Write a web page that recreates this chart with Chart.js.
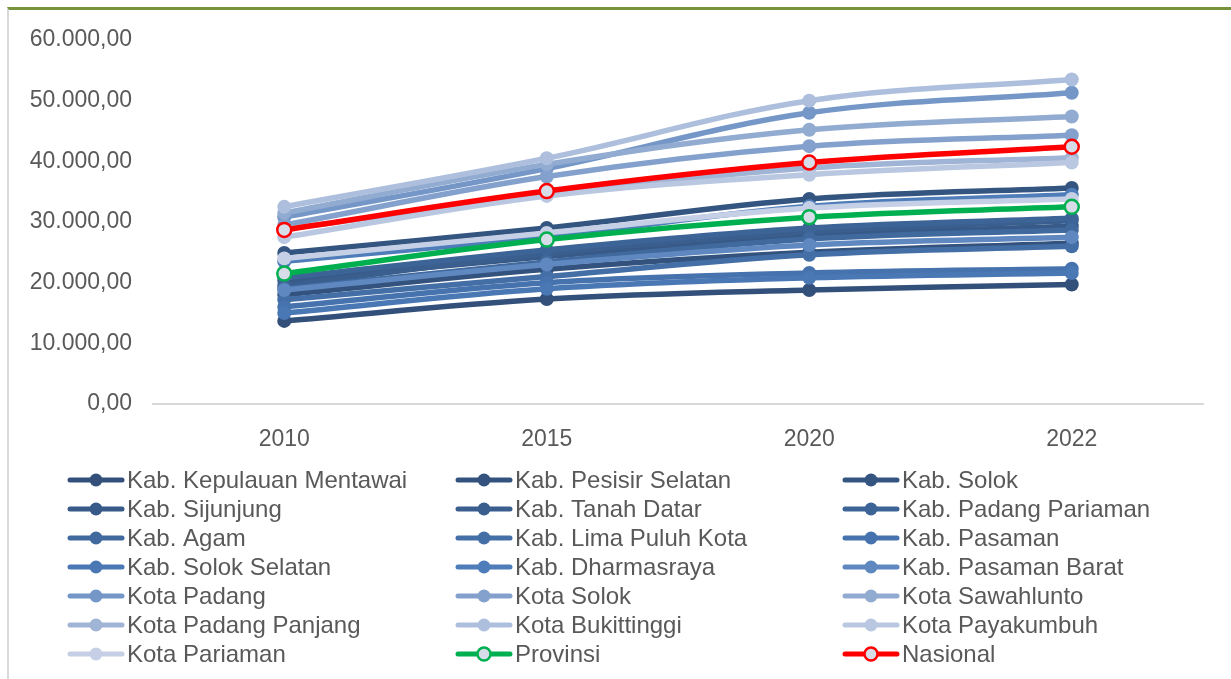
<!DOCTYPE html>
<html>
<head>
<meta charset="utf-8">
<script src="https://cdn.jsdelivr.net/npm/chart.js@4"></script>
<style>
  html, body { margin: 0; padding: 0; background: #fff; }
  #wrap { position: relative; width: 1231px; height: 679px; overflow: hidden; }
  #frame {
    position: absolute; left: 7px; top: 7px; right: -10px; bottom: -10px;
    border-top: 3px solid #77933C; border-left: 2px solid #D9D9D9;
    pointer-events: none;
  }
  canvas { position: absolute; left: 0; top: 0; }
</style>
</head>
<body>
<div id="wrap">
  <canvas id="ipmChart" width="1231" height="679"></canvas>
  <div id="frame"></div>
</div>
<script>
const years = ['2010', '2015', '2020', '2022'];

const regionNames = [
    'Kab. Kepulauan Mentawai', 'Kab. Pesisir Selatan', 'Kab. Solok',
    'Kab. Sijunjung', 'Kab. Tanah Datar', 'Kab. Padang Pariaman',
    'Kab. Agam', 'Kab. Lima Puluh Kota', 'Kab. Pasaman',
    'Kab. Solok Selatan', 'Kab. Dharmasraya', 'Kab. Pasaman Barat',
    'Kota Padang', 'Kota Solok', 'Kota Sawahlunto',
    'Kota Padang Panjang', 'Kota Bukittinggi', 'Kota Payakumbuh',
    'Kota Pariaman'
];

// one row per region, same order as regionNames
const mentawai       = [13700, 17300, 18800, 19700];
const pesisirSelatan = [18000, 22200, 25000, 26500];
const solok          = [24900, 29000, 33800, 35600];
const sijunjung      = [20300, 24300, 27800, 29300];
const tanahDatar     = [19500, 24800, 28400, 30200];
const padangPariaman = [20800, 25400, 29000, 30600];
const agam           = [19000, 23400, 27200, 28700];
const limaPuluhKota  = [17200, 21000, 24600, 26000];
const pasaman        = [16000, 20000, 21600, 22300];
const solokSelatan   = [15000, 19000, 20800, 21600];
const dharmasraya    = [23500, 27600, 32600, 34500];
const pasamanBarat   = [18800, 23000, 26200, 27500];
const kotaPadang     = [30800, 38800, 48000, 51300];
const kotaSolok      = [29500, 37500, 42500, 44300];
const sawahlunto     = [31500, 39500, 45200, 47400];
const padangPanjang  = [28800, 34500, 38900, 40600];
const bukittinggi    = [32500, 40500, 50000, 53500];
const payakumbuh     = [27500, 34300, 37800, 39800];
const kotaPariaman   = [24000, 28200, 32300, 33800];

const provinsi = [21500, 27100, 30800, 32500];
const nasional = [28700, 35100, 39800, 42400];

const yTicks = [0, 10000, 20000, 30000, 40000, 50000, 60000];

const regionValues = [
    mentawai, pesisirSelatan, solok, sijunjung, tanahDatar, padangPariaman,
    agam, limaPuluhKota, pasaman, solokSelatan, dharmasraya, pasamanBarat,
    kotaPadang, kotaSolok, sawahlunto, padangPanjang, bukittinggi,
    payakumbuh, kotaPariaman
];

// dark navy to pale blue
const shades = [
    '#32507A', '#33527D', '#345580', '#375A88', '#3A5F8F', '#3D6496',
    '#40699E', '#436EA6', '#4673AD', '#4A78B4', '#4E7DB9', '#5F88C0',
    '#7497C8', '#83A1CC', '#92ABD1', '#A0B4D6', '#ADBFDC', '#B9C7E0',
    '#C5CFE5'
];

const FONT = "'Liberation Sans', Arial, sans-serif";
const TEXT_COLOR = '#595959';

const datasets = regionNames.map((name, i) => ({
    label: name,
    data: regionValues[i],
    borderColor: shades[i],
    backgroundColor: shades[i],
    pointBorderColor: shades[i],
    pointBackgroundColor: shades[i],
    pointBorderWidth: 0
}));

datasets.push({
    label: 'Provinsi',
    data: provinsi,
    borderColor: '#00B050',
    backgroundColor: '#00B050',
    pointBorderColor: '#00B050',
    pointBackgroundColor: '#D6DCE8',
    pointBorderWidth: 2.5
});
datasets.push({
    label: 'Nasional',
    data: nasional,
    borderColor: '#FF0000',
    backgroundColor: '#FF0000',
    pointBorderColor: '#FF0000',
    pointBackgroundColor: '#D6DCE8',
    pointBorderWidth: 2.5
});

// later series sit on top
datasets.forEach((ds, i) => {
    ds.order = datasets.length - i;
    ds.borderWidth = 5.5;
    ds.pointRadius = 7;
    ds.tension = 0.35;
});

// legend in fixed columns under the plot
const gridLegend = {
    id: 'gridLegend',
    afterDraw(chart) {
        const c = chart.ctx;
        const colX = [68, 456, 843];
        const rowY = 480;
        const rowH = 29;
        c.save();
        c.font = '24px ' + FONT;
        c.textBaseline = 'middle';
        chart.data.datasets.forEach((ds, i) => {
            const x = colX[i % 3];
            const y = rowY + Math.floor(i / 3) * rowH;
            c.strokeStyle = ds.borderColor;
            c.lineWidth = 5;
            c.lineCap = 'round';
            c.beginPath();
            c.moveTo(x + 2, y);
            c.lineTo(x + 54, y);
            c.stroke();
            c.beginPath();
            c.arc(x + 28, y, 6.5, 0, Math.PI * 2);
            c.fillStyle = ds.pointBackgroundColor;
            c.fill();
            if (ds.pointBorderWidth) {
                c.lineWidth = ds.pointBorderWidth;
                c.strokeStyle = ds.pointBorderColor;
                c.stroke();
            }
            c.fillStyle = TEXT_COLOR;
            c.fillText(ds.label, x + 59, y + 1);
        });
        c.restore();
    }
};

const ctx = document.getElementById('ipmChart').getContext('2d');

new Chart(ctx, {
    type: 'line',
    data: { labels: years, datasets: datasets },
    plugins: [gridLegend],
    options: {
        responsive: false,
        animation: false,
        layout: {
            padding: { top: 40, right: 28, bottom: 0, left: 0 }
        },
        plugins: {
            legend: { display: false },
            tooltip: { enabled: false },
            title: { display: false }
        },
        scales: {
            x: {
                offset: true,
                grid: { display: false },
                border: { display: true, color: '#D9D9D9', width: 2 },
                ticks: {
                    color: TEXT_COLOR,
                    font: { size: 23, family: FONT },
                    padding: 14
                },
                afterFit(scale) { scale.height = 275; }
            },
            y: {
                min: 0,
                max: 60000,
                grid: { display: false },
                border: { display: false },
                afterBuildTicks(scale) {
                    scale.ticks = yTicks.map(v => ({ value: v }));
                },
                ticks: {
                    color: TEXT_COLOR,
                    font: { size: 23, family: FONT },
                    padding: 13,
                    callback: v => v.toLocaleString('de-DE', {
                        minimumFractionDigits: 2, maximumFractionDigits: 2
                    })
                },
                afterFit(scale) { scale.width = 153; }
            }
        }
    }
});
</script>
</body>
</html>
